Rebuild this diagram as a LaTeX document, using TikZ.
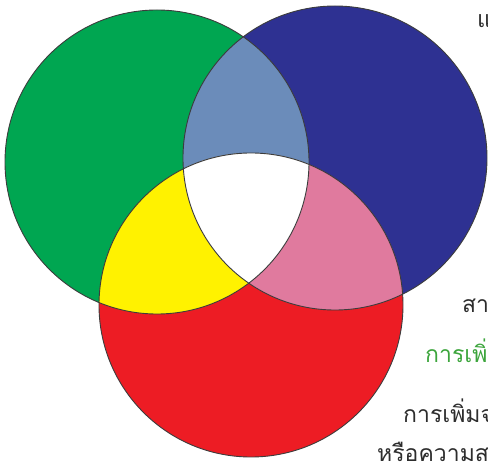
\documentclass[tikz,border=0pt]{standalone}
\usepackage{fontspec}
\newfontfamily\thaifont[Script=Thai]{Loma}
\definecolor{cgreen}{RGB}{0,166,81}
\definecolor{cblue}{RGB}{46,49,146}
\definecolor{cred}{RGB}{237,28,36}
\definecolor{cyellow}{RGB}{255,242,0}
\definecolor{clblue}{RGB}{107,140,186}
\definecolor{cpink}{RGB}{224,122,158}
\definecolor{cline}{RGB}{60,60,60}
\definecolor{ctext}{RGB}{45,45,45}
\definecolor{cgtext}{RGB}{60,165,60}
\tikzset{
  ring/.style={draw=cline,line width=0.9pt},
  thai/.style={anchor=base west,inner sep=0pt,font=\thaifont\fontsize{23}{27}\selectfont,text=ctext},
}
\begin{document}
\begin{tikzpicture}[x=1pt,y=-1pt]
\useasboundingbox (0,0) rectangle (488,462);
\clip (0,0) rectangle (488,462);
\coordinate (G) at (157,162);
\coordinate (B) at (335,158);
\coordinate (R) at (251,305);
% base fills
\fill[cgreen] (G) circle[radius=152];
\fill[cblue] (B) circle[radius=152];
\fill[cred] (R) circle[radius=152];
% pairwise overlaps
\begin{scope}
  \clip (G) circle[radius=152];
  \fill[clblue] (B) circle[radius=152];
  \fill[cyellow] (R) circle[radius=152];
\end{scope}
\begin{scope}
  \clip (B) circle[radius=152];
  \fill[cpink] (R) circle[radius=152];
\end{scope}
% triple overlap
\begin{scope}
  \clip (G) circle[radius=152];
  \clip (B) circle[radius=152];
  \fill[white] (R) circle[radius=152];
\end{scope}
% outlines
\draw[ring] (G) circle[radius=152];
\draw[ring] (B) circle[radius=152];
\draw[ring] (R) circle[radius=152];
% text cropped at the right edge, as in the reference
\node[thai] (t1) at (477,28) {แ};
\node[thai] (t2) at (462,313) {สา};
\node[thai,text=cgtext] (t3) at (425,363) {การเพิ่};
\node[thai] (t4) at (403,423) {การเพิ่มจ};
\node[thai] (t5) at (377,462) {หรือความส};
\end{tikzpicture}
\end{document}
